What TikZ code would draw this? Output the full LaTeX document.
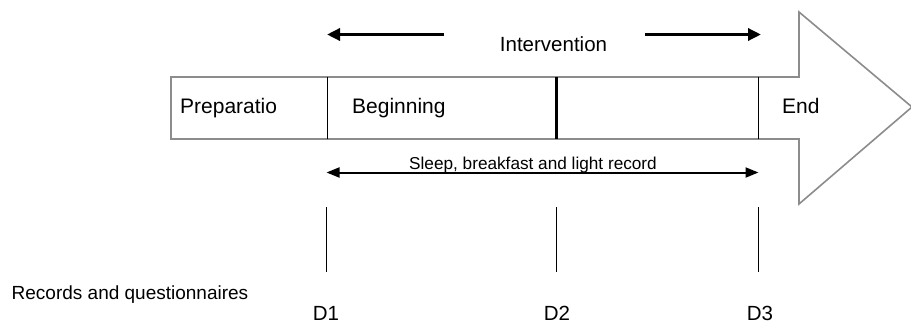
\documentclass[tikz,border=0pt]{standalone}
\usepackage{fontspec}
\setmainfont{Liberation Sans}
\usetikzlibrary{arrows.meta}
\definecolor{outlinegray}{HTML}{8C8C8C}
\begin{document}
\begin{tikzpicture}[x=1pt,y=-1pt,
  lbl/.style={inner sep=0pt,anchor=base west,font=\fontsize{21}{21}\selectfont},
  dlbl/.style={inner sep=0pt,anchor=base,font=\fontsize{20.5}{20.5}\selectfont},
  thinline/.style={line width=1pt,black},
  bigarrow/.style={line width=1.6pt,outlinegray,fill=white},
  darrow/.style={line width=3.6pt,-{Triangle[length=13pt,width=12pt]}},
  sarrow/.style={line width=2pt,{Triangle[length=13pt,width=10pt]}-{Triangle[length=13pt,width=10pt]}}]
\useasboundingbox (0,0) rectangle (911,324);
% big arrow outline
\draw[bigarrow] (171,77) -- (799,77) -- (799,12) -- (912,107) -- (799,204) -- (799,139) -- (171,139) -- cycle;
% dividers
\coordinate (t1) at (327,77); \coordinate (b1) at (327,139);
\coordinate (t2) at (556,77); \coordinate (b2) at (556,139);
\coordinate (t3) at (758,77); \coordinate (b3) at (758,139);
\draw[thinline] (t1) -- (b1);
\draw[line width=3pt] (t2) -- (b2);
\draw[thinline] (t3) -- (b3);
% labels in the arrow
\node[lbl] (prep) at (180,113) {Preparatio};
\node[lbl] (beg) at (352,113) {Beginning};
\node[lbl] (end) at (782,113) {End};
% intervention
\node[inner sep=0pt,anchor=base,font=\fontsize{20.5}{20.5}\selectfont] (int) at (553.5,51) {Intervention};
\coordinate (il1) at (444,34.5); \coordinate (il2) at (327,34.5);
\coordinate (ir1) at (645,34.5); \coordinate (ir2) at (761,34.5);
\draw[darrow] (il1) -- (il2);
\draw[darrow] (ir1) -- (ir2);
% sleep record
\coordinate (s1) at (326.5,172.5); \coordinate (s2) at (758.5,172.5);
\draw[sarrow] (s1) -- (s2);
\node[inner sep=0pt,anchor=base,font=\fontsize{17.2}{17.2}\selectfont] (sleep) at (533,169) {Sleep, breakfast and light record};
% vertical ticks
\coordinate (v1a) at (326.5,207); \coordinate (v1b) at (326.5,272);
\coordinate (v2a) at (556.5,207); \coordinate (v2b) at (556.5,272);
\coordinate (v3a) at (758,207); \coordinate (v3b) at (758,272);
\draw[thinline] (v1a) -- (v1b);
\draw[thinline] (v2a) -- (v2b);
\draw[thinline] (v3a) -- (v3b);
% bottom labels
\node[inner sep=0pt,anchor=base west,font=\fontsize{19}{19}\selectfont] (rec) at (11.5,299) {Records and questionnaires};
\node[dlbl] (d1) at (326,320.5) {D1};
\node[dlbl] (d2) at (557,320.5) {D2};
\node[dlbl] (d3) at (760,320.5) {D3};
\end{tikzpicture}
\end{document}
